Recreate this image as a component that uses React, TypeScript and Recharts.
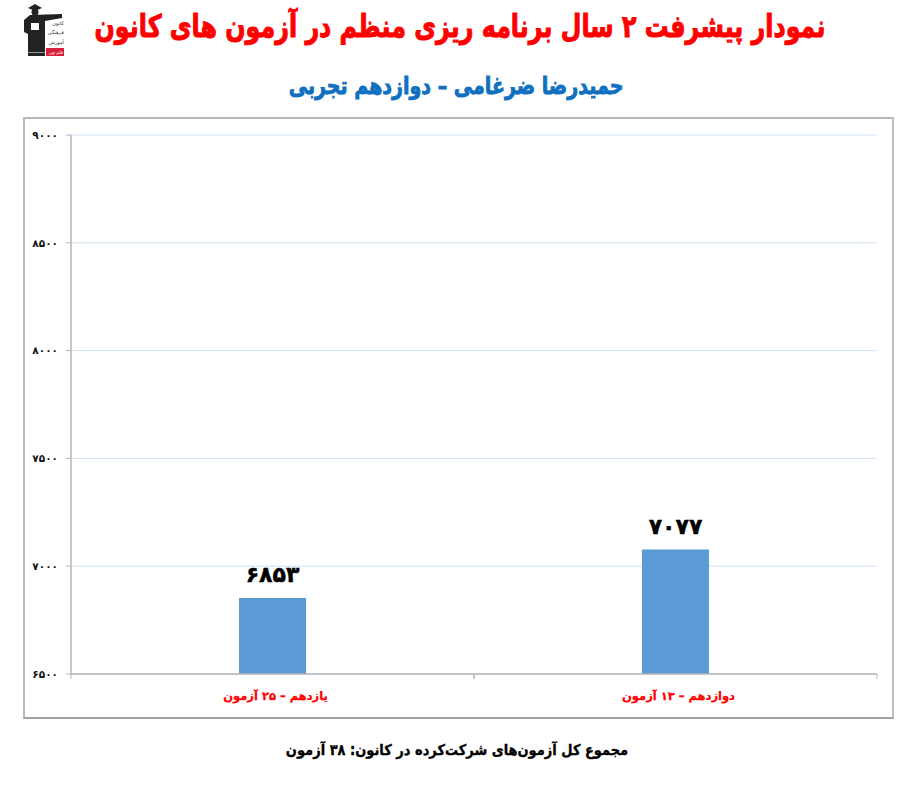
import React from "react";
import { BarChart, Bar, XAxis, YAxis, CartesianGrid, LabelList } from "recharts";

const categories = ["یازدهم – ۲۵ آزمون", "دوازدهم – ۱۳ آزمون"];
const scores = [6853, 7077];
const yTicks = [6500, 7000, 7500, 8000, 8500, 9000];

const chartData = categories.map((name, i) => ({ name, score: scores[i] }));

const FONT = '"DejaVu Sans", sans-serif';
const AXIS_COLOR = "#b4b4b4";
const PLOT_LEFT = 71;
const PLOT_RIGHT = 877;
const PLOT_TOP = 135;
const PLOT_BOTTOM = 674;
const HALF_BAND = (PLOT_RIGHT - PLOT_LEFT) / categories.length / 2;

const toFa = (v: number | string) =>
  String(v).replace(/[0-9]/g, (d) => "۰۱۲۳۴۵۶۷۸۹"[Number(d)]);

// ticks sit between the categories in the original, so they are drawn with the label
function CategoryTick({ x, y, payload }: any) {
  return (
    <g>
      <line x1={x - HALF_BAND} x2={x - HALF_BAND} y1={PLOT_BOTTOM} y2={PLOT_BOTTOM + 5} stroke={AXIS_COLOR} />
      <line x1={x + HALF_BAND} x2={x + HALF_BAND} y1={PLOT_BOTTOM} y2={PLOT_BOTTOM + 5} stroke={AXIS_COLOR} />
      <text
        x={x + 3}
        y={y + 18}
        textAnchor="middle"
        direction="rtl"
        fill="#ff0000"
        stroke="#ff0000"
        strokeWidth={0.25}
        fontFamily={FONT}
        fontWeight={700}
        fontSize={11.5}
      >
        {payload.value}
      </text>
    </g>
  );
}

function Logo() {
  return (
    <svg width={42} height={56} viewBox="0 0 42 56" style={{ position: "absolute", left: 23, top: 2 }}>
      <path d="M5 6 L12 2 L19 6 L12 9 Z" fill="#222" />
      <circle cx={12} cy={10} r={3.5} fill="#222" />
      <path d="M1 18 L7 13 L39 12 L39 16 L22 19 L22 54 L5 54 L5 32 L1 30 Z" fill="#222" />
      <rect x={8} y={21} width={8} height={7} fill="#fff" />
      <rect x={5} y={50} width={17} height={1} fill="#999" />
      <rect x={23} y={46} width={18} height={8} fill="#d8203a" />
      <g fontFamily={FONT} fontSize={5} textAnchor="start" fill="#333" direction="rtl">
        <text x={41} y={23}>کانون</text>
        <text x={41} y={32}>فرهنگی</text>
        <text x={41} y={42}>آموزش</text>
        <text x={40} y={52} fill="#fff" fontSize={4.5}>قلم چی</text>
      </g>
    </svg>
  );
}

const heading = (top: number, size: number, color: string, stretch: number, heavy: number): React.CSSProperties => ({
  position: "absolute",
  left: 0,
  top,
  width: 918,
  textAlign: "center",
  direction: "rtl",
  fontFamily: FONT,
  fontWeight: 700,
  fontSize: size,
  lineHeight: "40px",
  color,
  whiteSpace: "nowrap",
  transform: `scaleY(${stretch})`,
  WebkitTextStroke: `${heavy}px ${color}`,
});

export default function App() {
  return (
    <div style={{ position: "absolute", left: 0, top: 0, width: 918, height: 794, background: "#fff", overflow: "hidden" }}>
      <Logo />
      <div style={{ ...heading(7, 23.8, "#ff0000", 1.3, 0.8), left: 1 }}>نمودار پیشرفت ۲ سال برنامه ریزی منظم در آزمون های کانون</div>
      <div style={{ ...heading(65, 19, "#0f70c0", 1.25, 0.7), left: -3 }}>حمیدرضا ضرغامی – دوازدهم تجربی</div>
      <div
        style={{
          position: "absolute",
          left: 23,
          top: 117,
          width: 867,
          height: 598,
          borderStyle: "solid",
          borderWidth: 2,
          borderColor: "#b8b8b8 #c0c0c0 #a0a0a0 #b8b8b8",
        }}
      />
      <div style={{ position: "absolute", left: 0, top: 0 }}>
        <BarChart
          width={918}
          height={794}
          data={chartData}
          margin={{ top: PLOT_TOP, right: 918 - PLOT_RIGHT, bottom: 794 - PLOT_BOTTOM - 40, left: PLOT_LEFT - 50 }}
          barSize={67}
        >
          <CartesianGrid horizontal vertical={false} stroke="#d0e0f6" strokeWidth={1} />
          <XAxis
            dataKey="name"
            height={40}
            interval={0}
            tickLine={false}
            axisLine={{ stroke: AXIS_COLOR, strokeWidth: 1.5 }}
            tick={<CategoryTick />}
          />
          <YAxis
            width={50}
            domain={[6500, 9000]}
            ticks={yTicks}
            interval={0}
            tickFormatter={toFa}
            tickSize={5}
            tickMargin={8}
            tickLine={{ stroke: AXIS_COLOR }}
            axisLine={{ stroke: AXIS_COLOR, strokeWidth: 1.5 }}
            tick={{ fill: "#111", fontFamily: FONT, fontWeight: 700, fontSize: 10.5 }}
            allowDataOverflow
          />
          <Bar dataKey="score" fill="#5b9bd5" isAnimationActive={false}>
            <LabelList
              dataKey="score"
              position="top"
              offset={16}
              formatter={toFa}
              style={{ fill: "#000", stroke: "#000", strokeWidth: 0.5, fontFamily: FONT, fontWeight: 700, fontSize: 22 }}
            />
          </Bar>
        </BarChart>
      </div>
      <div style={{ ...heading(730, 13, "#000", 1.15, 0.3), left: -2 }}>مجموع کل آزمون‌های شرکت‌کرده در کانون: ۳۸ آزمون</div>
    </div>
  );
}
